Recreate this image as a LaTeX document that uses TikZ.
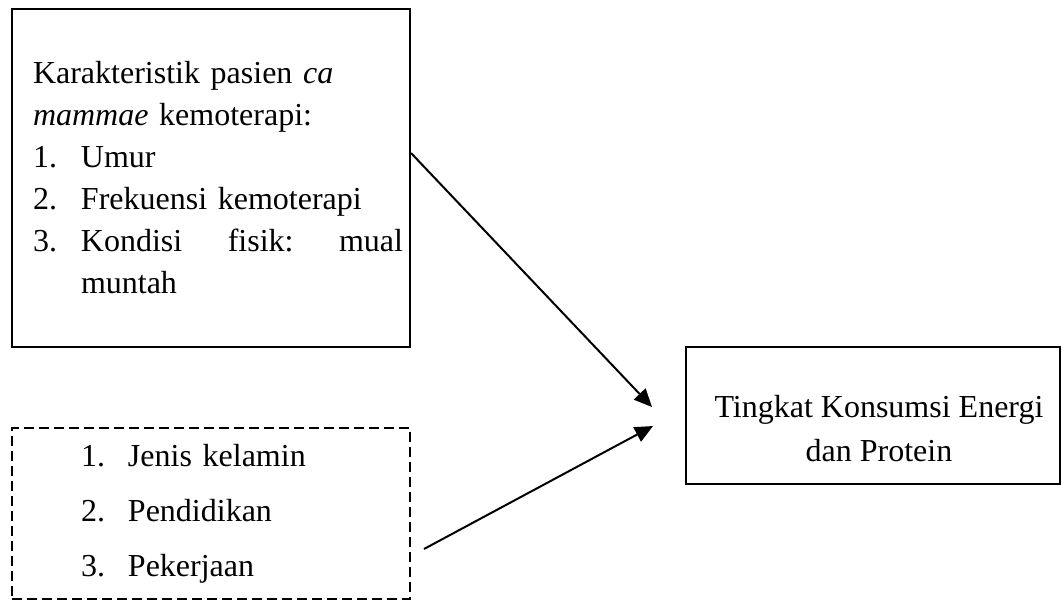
\documentclass[tikz,border=0pt]{standalone}
\usepackage{fontspec}
\setmainfont{Liberation Serif}
\usetikzlibrary{arrows.meta}

\begin{document}
\begin{tikzpicture}[x=0.5pt,y=-0.5pt,>={Triangle[length=9pt,width=8pt]},line width=1pt,
  box/.style={draw,anchor=north west,minimum width=199pt,inner xsep=3.5pt,
    text width=192pt,align=left,font=\fontsize{16}{21}\selectfont}]
  \useasboundingbox (0,0) rectangle (1061,600);
  % Patient characteristics (top left)
  \node[box,minimum height=169pt] (karak) at (11,8) {\leftskip=7pt
    Karakteristik pasien \textit{ca}\\
    \textit{mammae} kemoterapi:\\
    \makebox[24pt][l]{1.}Umur\\
    \makebox[24pt][l]{2.}Frekuensi kemoterapi\\
    \makebox[24pt][l]{3.}Kondisi\hfill fisik:\hfill mual\\
    \hspace*{24pt}muntah\par};
  % Other factors (dashed, bottom left)
  \node[box,dashed,dash pattern=on 5pt off 2.5pt,minimum height=85.5pt,
    font=\fontsize{16}{27.5}\selectfont] (faktor) at (11,427) {\leftskip=31pt
    \makebox[23.5pt][l]{1.}Jenis kelamin\\
    \makebox[23.5pt][l]{2.}Pendidikan\\
    \makebox[23.5pt][l]{3.}Pekerjaan\par};
  % Outcome (right)
  \node[draw,anchor=north west,minimum width=187pt,minimum height=68.5pt] (tingkat) at (685,346) {};
  \node[align=center,font=\fontsize{16}{22}\selectfont] (tingkattxt) at (879,429)
    {Tingkat Konsumsi Energi\\dan Protein};
  % Arrows
  \coordinate (tip1) at (652,407);
  \coordinate (tip2) at (653,426);
  \draw[->] ([yshift=12.5pt]karak.east) -- (tip1);
  \draw[->] ([shift={(6.5pt,-17.75pt)}]faktor.east) -- (tip2);
\end{tikzpicture}
\end{document}
